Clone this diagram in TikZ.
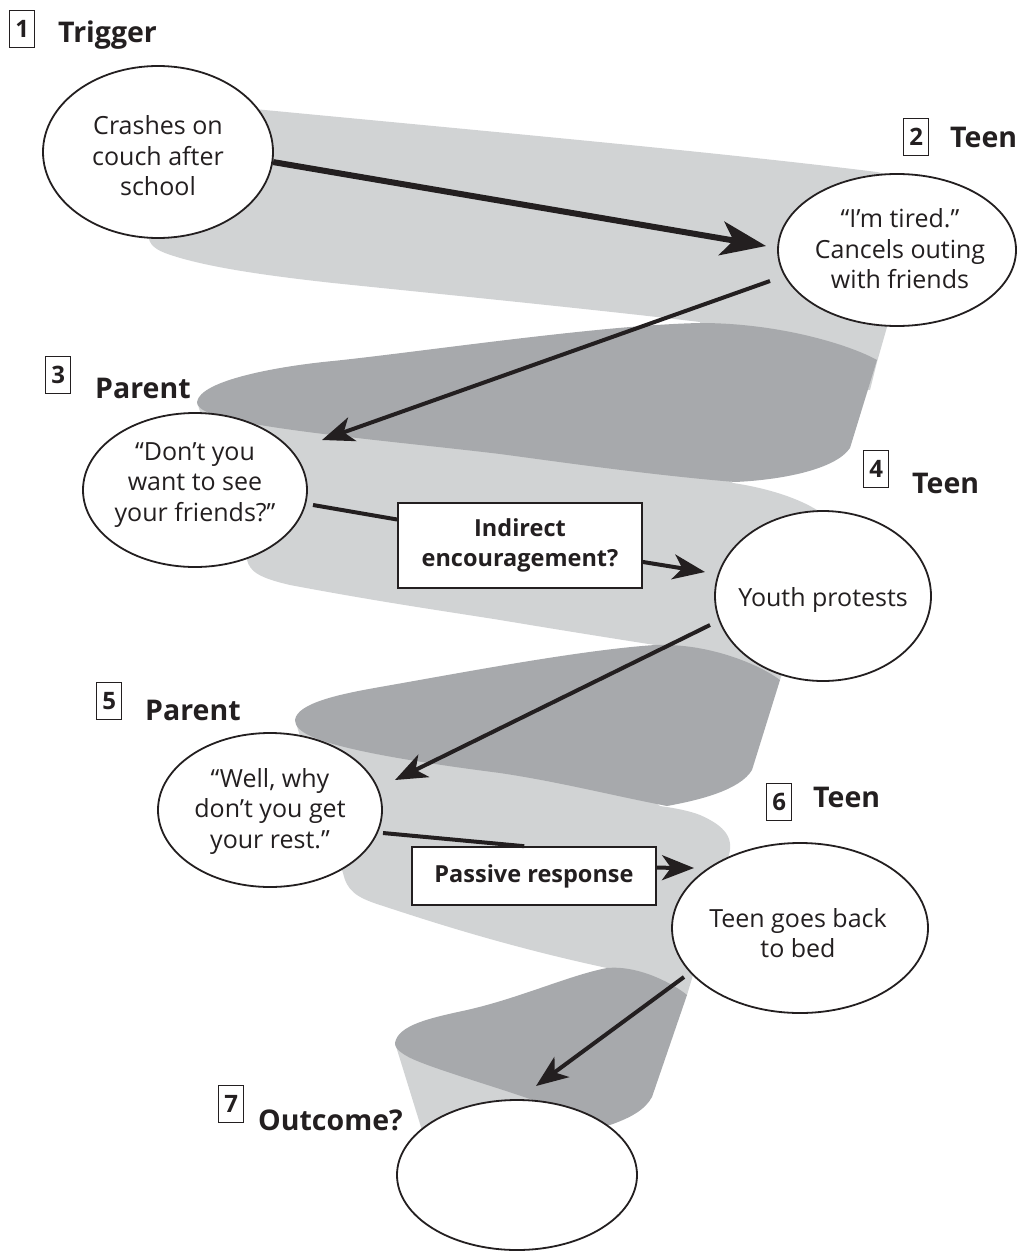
\documentclass[tikz,border=0pt]{standalone}
\usepackage{fontspec}
\setmainfont{Open Sans}
\usetikzlibrary{arrows.meta,shapes.geometric,calc}
\definecolor{ink}{HTML}{231F20}
\definecolor{bandlight}{HTML}{D1D3D4}
\definecolor{banddark}{HTML}{A7A9AC}

\begin{document}
\begin{tikzpicture}[x=1pt,y=-1pt,
  bubble/.style={ellipse, draw=ink, line width=1.8pt, fill=white, inner sep=0pt},
  saying/.style={align=center, text=ink, font=\fontsize{25}{30.5}\selectfont, inner sep=0pt},
  tagbox/.style={draw=ink, line width=1.6pt, fill=white, inner sep=0pt, font=\bfseries\fontsize{23.5}{29.5}\selectfont, text=ink, align=center},
  numbox/.style={draw=ink, line width=1.3pt, minimum width=25pt, minimum height=37pt, inner sep=0pt, anchor=north west, font=\bfseries\fontsize{24}{24}\selectfont, text=ink},
  heading/.style={anchor=base west, inner sep=0pt, font=\bfseries\fontsize{28.5}{28.5}\selectfont, text=ink},
  bigflow/.style={draw=ink, line width=6pt, -{Stealth[length=45pt,width=34pt,inset=12pt]}},
  flow/.style={draw=ink, line width=4pt, -{Stealth[length=32pt,width=25pt,inset=9pt]}},
  link/.style={draw=ink, line width=4pt},
]
\useasboundingbox (0,0) rectangle (1017,1252);

% ---------- spiral ribbon: front (light) faces ----------
\fill[bandlight] (150,99) .. controls (450,128) and (700,150) .. (877,172)
  .. controls (905,178) and (915,190) .. (915,205) -- (887,327) -- (877,362)
  -- (870,390) -- (700,370) -- (700,322)
  .. controls (600,310) and (420,292) .. (333,283)
  .. controls (260,275) and (200,266) .. (165,253)
  .. controls (152,248) and (148,242) .. (148,232) -- (148,110) -- cycle;

\fill[bandlight] (197,402) -- (247,560)
  .. controls (250,572) and (260,578) .. (290,585)
  .. controls (380,602) and (450,612) .. (500,620)
  .. controls (560,630) and (610,638) .. (655,645)
  -- (655,700) -- (758,712) -- (780,680) -- (830,520)
  .. controls (815,505) and (780,490) .. (733,483)
  -- (700,460) -- (500,420) -- cycle;

\fill[bandlight] (295,720) -- (343,873)
  .. controls (347,890) and (355,897) .. (380,905)
  .. controls (420,918) and (500,945) .. (607,968)
  -- (640,1000) -- (687,995) -- (728,858)
  .. controls (735,838) and (725,826) .. (700,815)
  .. controls (690,811) and (675,808) .. (660,806)
  -- (600,760) -- cycle;

\fill[bandlight] (395,1043) -- (425,1140) -- (560,1140) -- (600,1100) -- (520,1060) -- cycle;

% ---------- spiral ribbon: back (dark) faces ----------
\fill[banddark] (197,402) .. controls (200,380) and (280,366) .. (333,361)
  .. controls (420,352) and (600,325) .. (700,323)
  .. controls (780,323) and (850,345) .. (877,360)
  -- (850,448)
  .. controls (835,470) and (780,480) .. (735,482)
  .. controls (650,475) and (560,462) .. (500,454)
  .. controls (400,442) and (260,430) .. (215,415)
  .. controls (200,410) and (197,406) .. (197,402) -- cycle;

\fill[banddark] (295,720) .. controls (297,703) and (340,694) .. (380,687)
  .. controls (460,673) and (580,650) .. (655,645)
  .. controls (710,643) and (760,665) .. (780,680)
  -- (752,770)
  .. controls (740,790) and (700,800) .. (667,806)
  .. controls (610,795) and (560,782) .. (500,773)
  .. controls (430,764) and (350,752) .. (315,738)
  .. controls (300,732) and (295,726) .. (295,720) -- cycle;

\fill[banddark] (395,1043) .. controls (398,1025) and (430,1018) .. (467,1010)
  .. controls (520,998) and (570,975) .. (607,968)
  .. controls (640,965) and (675,985) .. (687,995)
  -- (652,1097)
  .. controls (645,1110) and (630,1118) .. (610,1125)
  .. controls (590,1125) and (560,1110) .. (533,1100)
  .. controls (490,1085) and (420,1065) .. (405,1055)
  .. controls (397,1050) and (395,1047) .. (395,1043) -- cycle;

% ---------- step headings ----------
\node[numbox] (n1) at (9,10) {1};
\node[heading] (h1) at (58,43) {Trigger};
\node[numbox] (n2) at (903,118) {2};
\node[heading] (h2) at (950,148) {Teen};
\node[numbox] (n3) at (45,356) {3};
\node[heading] (h3) at (95,398) {Parent};
\node[numbox] (n4) at (863,450) {4};
\node[heading] (h4) at (912,493) {Teen};
\node[numbox] (n5) at (96,682) {5};
\node[heading] (h5) at (145,720) {Parent};
\node[numbox] (n6) at (766,783) {6};
\node[heading] (h6) at (813,807) {Teen};
\node[numbox] (n7) at (218,1085) {7};
\node[heading] (h7) at (258,1130) {Outcome?};

% ---------- speech bubbles ----------
\node[bubble, minimum width=230pt, minimum height=172pt] (e1) at (158,152) {};
\node[saying] (e1t) at (158,156) {Crashes on\\couch after\\school};
\node[bubble, minimum width=238pt, minimum height=152pt] (e2) at (897,250) {};
\node[saying] (e2t) at (900,249) {“I’m tired.”\\Cancels outing\\with friends};
\node[bubble, minimum width=224pt, minimum height=154pt] (e3) at (195,490) {};
\node[saying] (e3t) at (195,485) {“Don’t you\\want to see\\your friends?”};
\node[bubble, minimum width=216pt, minimum height=170pt] (e4) at (823,596) {};
\node[saying] (e4t) at (823,600) {Youth protests};
\node[bubble, minimum width=224pt, minimum height=154pt] (e5) at (270,810) {};
\node[saying] (e5t) at (270,811) {“Well, why\\don’t you get\\your rest.”};
\node[bubble, minimum width=256pt, minimum height=170pt] (e6) at (800,928) {};
\node[saying] (e6t) at (798,933) {Teen goes back\\to bed};
\node[bubble, minimum width=240pt, minimum height=150pt] (e7) at (517,1175) {};

% ---------- response boxes ----------
\node[tagbox, minimum width=244pt, minimum height=85pt] (b1) at (520,545.5) {Indirect\\encouragement?};
\node[tagbox, minimum width=244pt, minimum height=58pt] (b2) at (534,876) {Passive response};

% ---------- arrow end points ----------
\coordinate (t1) at (766,246);
\coordinate (s2) at (770,281);
\coordinate (t2) at (322,440);
\coordinate (s3) at (313,505);
\coordinate (t3) at (705,572);
\coordinate (s4) at (710,625);
\coordinate (t4) at (395,780);
\coordinate (s5) at (383,833);
\coordinate (t5) at (694,868);
\coordinate (s6) at (684,977);
\coordinate (t6) at (536,1086);

% ---------- arrows ----------
\draw[bigflow] (e1.-5) -- (t1);
\draw[flow] (s2) -- (t2);
\draw[link] (s3) -- ($(b1.north west)!0.2!(b1.south west)$);
\draw[flow] ($(b1.north east)!0.69!(b1.south east)$) -- (t3);
\draw[flow] (s4) -- (t4);
\draw[link] (s5) -- ($(b2.north west)!0.46!(b2.north east)$);
\draw[flow] ($(b2.north east)!0.36!(b2.south east)$) -- (t5);
\draw[flow] (s6) -- (t6);
\end{tikzpicture}
\end{document}
